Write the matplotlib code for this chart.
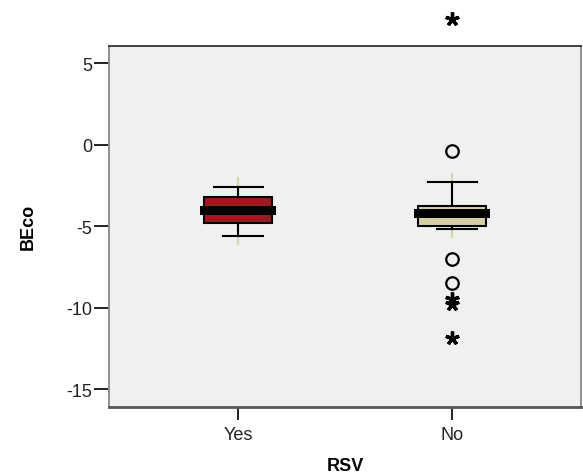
import matplotlib
matplotlib.use("Agg")
import matplotlib.pyplot as plt
from matplotlib.patches import Rectangle

plt.rcParams['font.family'] = ['Liberation Sans', 'DejaVu Sans']

categories = ["Yes", "No"]
q1 = [-4.81, -4.97]
median = [-4.03, -4.22]
q3 = [-3.23, -3.76]
whisker_lo = [-5.60, -5.19]
whisker_hi = [-2.58, -2.31]
ci_lo = [-6.10, -5.67]
ci_hi = [-2.04, -1.80]
box_colors = ["#a3181d", "#d6cf9f"]
outliers_circle = [[], [-0.41, -7.02, -8.49]]
outliers_star = [[], [7.72, -9.48, -9.79, -11.87]]
yticks = [5, 0, -5, -10, -15]

fig = plt.figure(figsize=(5.83, 4.77), dpi=100)
ax = fig.add_axes([0.1875, 0.1453, 0.9966 - 0.1875, 0.9021 - 0.1453])
ax.set_facecolor("#f0f0f0")

box_w = 0.318
band_w = 0.355
band_h = 0.56
cap_w = 0.23

for i, cat in enumerate(categories):
    x = i
    # pale confidence line
    ax.plot([x, x], [ci_lo[i], ci_hi[i]], color="#d8d8a6", lw=1.6, zorder=1)
    # whiskers
    ax.plot([x, x], [q3[i], whisker_hi[i]], color="black", lw=1.5, zorder=2)
    ax.plot([x, x], [whisker_lo[i], q1[i]], color="black", lw=1.5, zorder=2)
    ax.plot([x - cap_w / 2, x + cap_w / 2], [whisker_hi[i]] * 2, color="black", lw=1.5, zorder=2)
    ax.plot([x - cap_w / 2 + 0.042, x + cap_w / 2], [whisker_lo[i]] * 2, color="black", lw=1.5, zorder=2)
    # box
    ax.add_patch(Rectangle((x - box_w / 2, q1[i]), box_w, q3[i] - q1[i],
                           facecolor=box_colors[i], edgecolor="black", lw=1.5, zorder=3))
    # median band
    ax.add_patch(Rectangle((x - band_w / 2, median[i] - band_h / 2), band_w, band_h,
                           facecolor="black", edgecolor="none", zorder=4))
    if outliers_circle[i]:
        ax.plot([x] * len(outliers_circle[i]), outliers_circle[i], linestyle="none",
                marker="o", markersize=9, markerfacecolor="none", markeredgecolor="black",
                markeredgewidth=1.6, zorder=5, clip_on=False)
    if outliers_star[i]:
        ax.plot([x] * len(outliers_star[i]), outliers_star[i], linestyle="none",
                marker=(5, 2, 0), markersize=10, markeredgecolor="black",
                markeredgewidth=2.4, zorder=5, clip_on=False)

ax.set_xlim(-0.603, 1.601)
ax.set_ylim(-16.08, 6.08)
ax.set_xticks(range(len(categories)))
ax.set_xticklabels(categories)
ax.set_yticks(yticks)
ax.set_yticklabels([str(t) for t in yticks])
ax.tick_params(axis='y', length=11, width=1.4, pad=1.5, labelsize=13, colors="#222222")
ax.tick_params(axis='x', length=9, width=1.4, pad=5, labelsize=13, colors="#222222")
for s in ["left", "right"]:
    ax.spines[s].set_color("#888888")
    ax.spines[s].set_linewidth(1.3)
ax.spines["top"].set_color("#222222")
ax.spines["top"].set_linewidth(1.2)
ax.spines["bottom"].set_color("#555555")
ax.spines["bottom"].set_linewidth(2)

ax.set_xlabel("RSV", fontsize=13, fontweight="bold", labelpad=10)
ax.set_ylabel("BEco", fontsize=13, fontweight="bold", labelpad=21)

fig.savefig("out.png", dpi=100)
